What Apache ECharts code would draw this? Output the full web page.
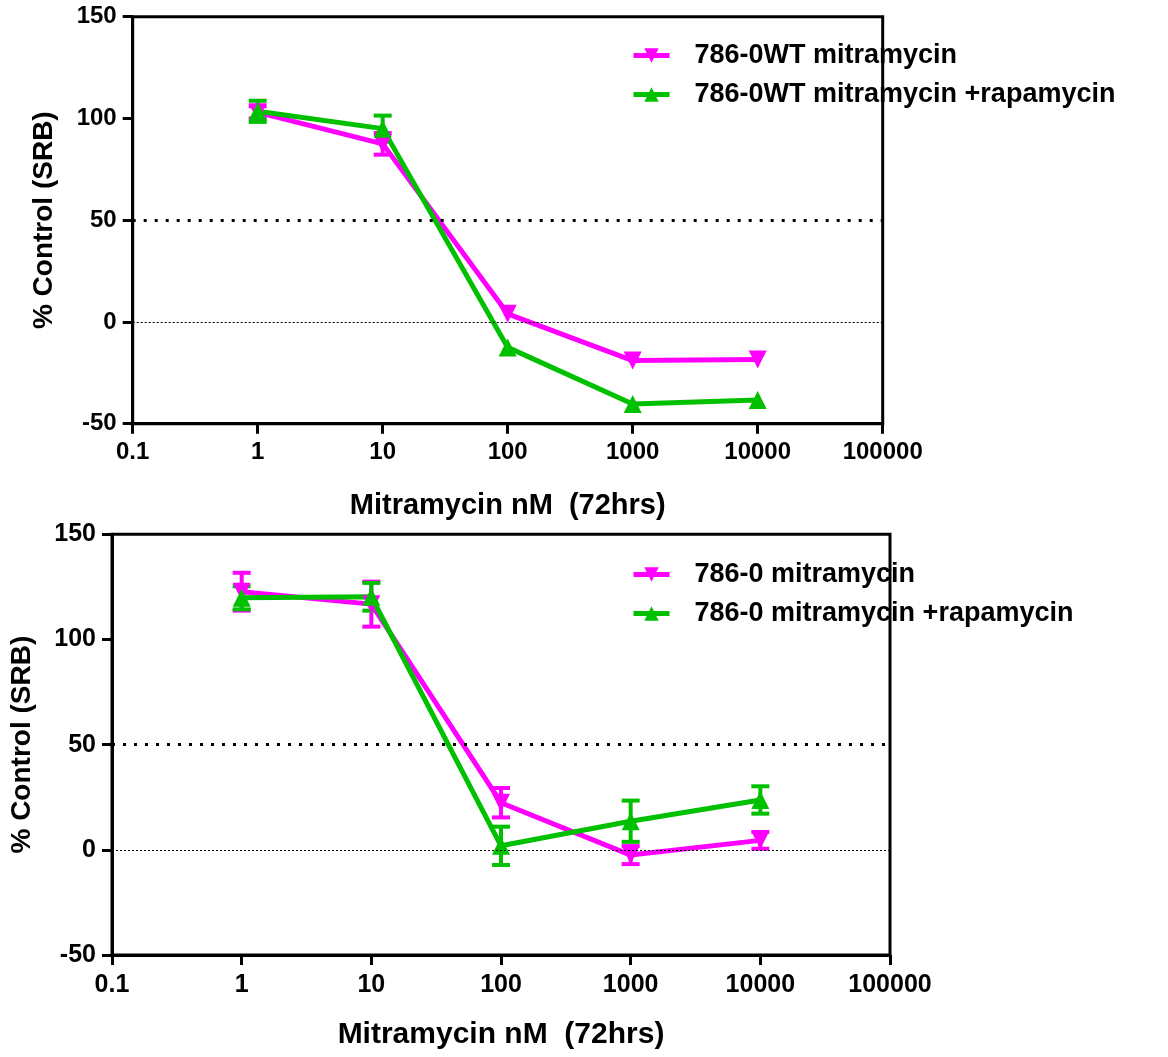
<!DOCTYPE html>
<html>
<head>
<meta charset="utf-8">
<script src="https://cdn.jsdelivr.net/npm/echarts@6/dist/echarts.min.js"></script>
<style>
  html, body { margin: 0; padding: 0; background: #fff; }
  #chart { width: 1168px; height: 1057px; }
</style>
</head>
<body>
<div id="chart"></div>
<script>
// Mitramycin concentrations (nM)
const doses = [1, 10, 100, 1000, 10000];
const xTicks = [0.1, 1, 10, 100, 1000, 10000, 100000];
const yTicks = [-50, 0, 50, 100, 150];

// Panel 1: 786-0WT cells
const wtNames = ['786-0WT mitramycin', '786-0WT mitramycin +rapamycin'];
const wtMitra = [103, 87.5, 4, -19, -18.5];
const wtMitraErr = [3, 5.3, 0, 0, 0];
const wtCombo = [103.5, 95, -12.5, -40.3, -38.3];
const wtComboErr = [5.2, 6.4, 0, 0, 0];

// Panel 2: 786-0 cells
const pNames = ['786-0 mitramycin', '786-0 mitramycin +rapamycin'];
const pMitra = [122.7, 116.8, 22.4, -2.5, 4.5];
const pMitraErr = [9, 10.7, 7, 4.3, 4];
const pCombo = [119.8, 120.3, 1.9, 13.6, 23.7];
const pComboErr = [5.5, 6.6, 9.1, 9.8, 6.5];

const MAGENTA = '#ff00ff';
const GREEN = '#00c000';
const FONT = '"Liberation Sans", Arial, sans-serif';

function pairs(xs, ys) { return xs.map((x, i) => [x, ys[i]]); }
function triples(xs, ys, es) { return xs.map((x, i) => [x, ys[i], es[i]]); }

// Mean ± error bars with caps
function errorSeries(idx, values, errs, color) {
  return {
    type: 'custom',
    xAxisIndex: idx, yAxisIndex: idx,
    silent: true,
    z: 3,
    data: triples(doses, values, errs),
    renderItem: function (params, api) {
      const x = api.value(0), y = api.value(1), e = api.value(2);
      if (!e) return null;
      const hi = api.coord([x, y + e]);
      const lo = api.coord([x, y - e]);
      const w = 9;
      const style = { stroke: color, lineWidth: 4 };
      return {
        type: 'group',
        children: [
          { type: 'line', shape: { x1: hi[0], y1: hi[1], x2: lo[0], y2: lo[1] }, style: style },
          { type: 'line', shape: { x1: hi[0] - w, y1: hi[1], x2: hi[0] + w, y2: hi[1] }, style: style },
          { type: 'line', shape: { x1: lo[0] - w, y1: lo[1], x2: lo[0] + w, y2: lo[1] }, style: style }
        ]
      };
    }
  };
}

function lineSeries(idx, name, values, color, down) {
  return {
    type: 'line',
    name: name,
    xAxisIndex: idx, yAxisIndex: idx,
    data: pairs(doses, values),
    symbol: 'triangle',
    symbolRotate: down ? 180 : 0,
    symbolSize: 18,
    lineStyle: { color: color, width: 5 },
    itemStyle: { color: color },
    z: 4,
    animation: false
  };
}

// Dotted reference lines at 50% and 0%
function refLines(idx) {
  return {
    type: 'line',
    xAxisIndex: idx, yAxisIndex: idx,
    data: [],
    silent: true,
    markLine: {
      symbol: 'none',
      silent: true,
      label: { show: false },
      data: [
        { yAxis: 50, lineStyle: { color: '#000', width: 3, type: [3, 8] } },
        { yAxis: 0, lineStyle: { color: '#000', width: 1.2, type: [2, 2] } }
      ]
    }
  };
}

const grids = [
  { left: 132.7, top: 16.7, width: 750, height: 407 },
  { left: 112, top: 534.3, width: 778, height: 420.7 }
];

function xAxis(idx, fs, nfs, gap, margin) {
  return {
    type: 'log', logBase: 10, gridIndex: idx,
    min: 0.1, max: 100000,
    name: 'Mitramycin nM  (72hrs)',
    nameLocation: 'middle',
    nameGap: gap,
    nameTextStyle: { fontFamily: FONT, fontWeight: 'bold', fontSize: nfs, color: '#000' },
    axisLine: { onZero: false, lineStyle: { color: '#000', width: 3 } },
    axisTick: { show: true, length: 10, lineStyle: { color: '#000', width: 3 } },
    minorTick: { show: false },
    splitLine: { show: false },
    axisLabel: {
      margin: margin, fontFamily: FONT, fontWeight: 'bold', fontSize: fs, color: '#000',
      showMinLabel: true, showMaxLabel: true,
      formatter: function (v) {
        const t = xTicks.find(k => Math.abs(Math.log10(k) - Math.log10(v)) < 1e-6);
        return t === undefined ? '' : String(t);
      }
    }
  };
}

function yAxis(idx, fs, nfs, gap) {
  return {
    type: 'value', gridIndex: idx,
    min: yTicks[0], max: yTicks[yTicks.length - 1], interval: 50,
    name: '% Control (SRB)',
    nameLocation: 'middle',
    nameGap: gap,
    nameRotate: 90,
    nameTextStyle: { fontFamily: FONT, fontWeight: 'bold', fontSize: nfs, color: '#000' },
    axisLine: { show: true, onZero: false, lineStyle: { color: '#000', width: 3 } },
    axisTick: { show: true, length: 10, lineStyle: { color: '#000', width: 3 } },
    splitLine: { show: false },
    axisLabel: { margin: 16, fontFamily: FONT, fontWeight: 'bold', fontSize: fs, color: '#000' }
  };
}

function legend(names, top) {
  return {
    orient: 'vertical',
    left: 626, top: top,
    itemWidth: 36, itemHeight: 18,
    itemGap: 12,
    data: names,
    lineStyle: { width: 5 },
    textStyle: { fontFamily: FONT, fontWeight: 'bold', fontSize: 27, color: '#000', padding: [0, 0, 0, 20] }
  };
}

const chart = echarts.init(document.getElementById('chart'), null, { renderer: 'canvas' });
chart.setOption({
  animation: false,
  backgroundColor: '#fff',
  grid: grids.map(g => Object.assign({ show: true, borderColor: '#000', borderWidth: 3, backgroundColor: 'transparent' }, g)),
  xAxis: [xAxis(0, 24, 29, 68, 17), xAxis(1, 25, 30, 65, 18)],
  yAxis: [yAxis(0, 24, 28, 74), yAxis(1, 25, 28, 76)],
  legend: [legend(wtNames, 37), legend(pNames, 556)],
  series: [
    refLines(0),
    refLines(1),
    errorSeries(0, wtMitra, wtMitraErr, MAGENTA),
    errorSeries(0, wtCombo, wtComboErr, GREEN),
    lineSeries(0, wtNames[0], wtMitra, MAGENTA, true),
    lineSeries(0, wtNames[1], wtCombo, GREEN, false),
    errorSeries(1, pMitra, pMitraErr, MAGENTA),
    errorSeries(1, pCombo, pComboErr, GREEN),
    lineSeries(1, pNames[0], pMitra, MAGENTA, true),
    lineSeries(1, pNames[1], pCombo, GREEN, false)
  ]
});
</script>
</body>
</html>
